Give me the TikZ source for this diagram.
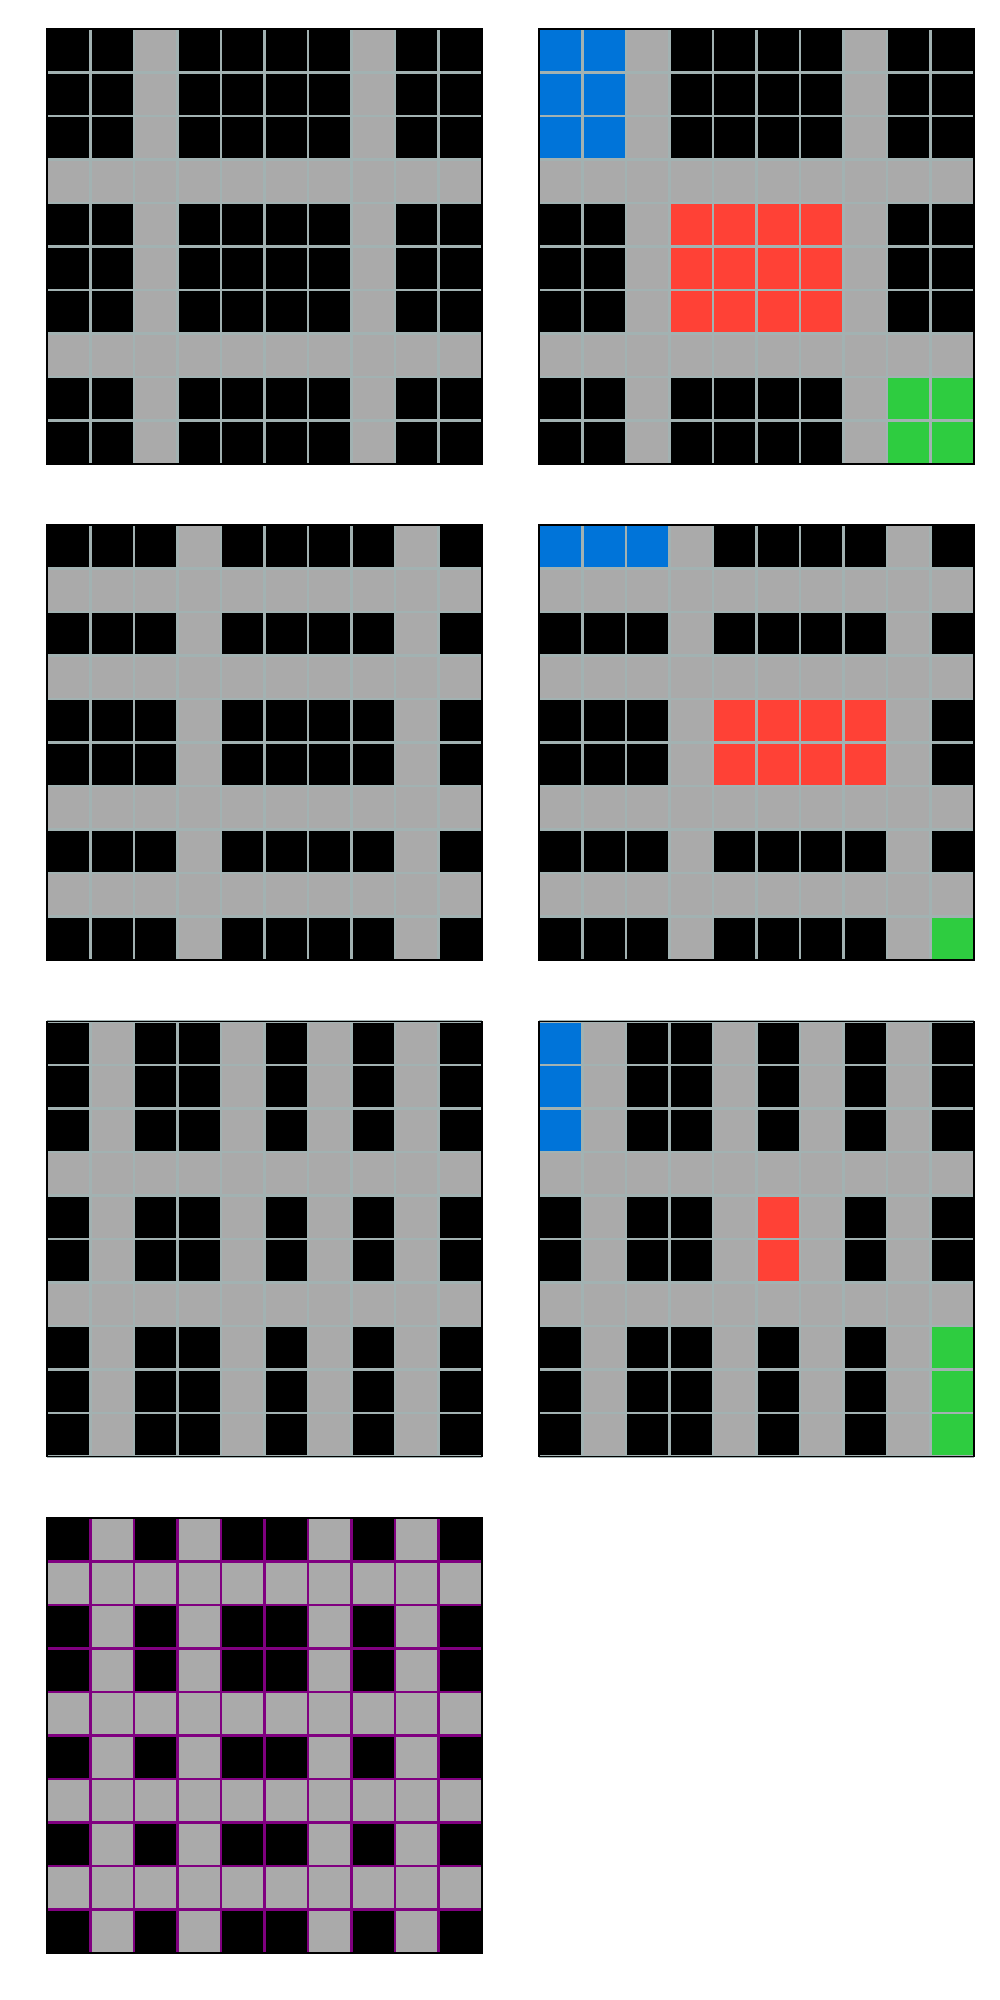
\documentclass[tikz,border=0pt]{standalone}
\definecolor{arcgrey}{HTML}{AAAAAA}
\definecolor{arcblue}{HTML}{0074D9}
\definecolor{arcred}{HTML}{FF4136}
\definecolor{arcgreen}{HTML}{2ECC40}
\definecolor{linegrey}{HTML}{A2B2B2}
\definecolor{linepurple}{HTML}{800080}
\tikzset{
  cellrule/.style={draw=linegrey, line width=0.6pt},
  purplerule/.style={draw=linepurple, line width=0.6pt},
  gridframe/.style={draw=black, line width=0.4pt},
}
% black board with grey rows and columns (rows counted from the top)
\newcommand{\cellbands}[2]{%
  \fill[black] (0,0) rectangle (10,10);
  \foreach \c in {#1} \fill[arcgrey] (\c,0) rectangle ++(1,10);
  \foreach \r in {#2} \fill[arcgrey] (0,{9-\r}) rectangle ++(10,1);
}
% cell lines and outer frame
\newcommand{\cellrules}[1]{%
  \foreach \i in {0,...,10} {
    \draw[#1] (\i,0) -- (\i,10);
    \draw[#1] (0,\i) -- (10,\i);
  }
  \draw[gridframe] (0,0) rectangle (10,10);
}
\begin{document}
\begin{tikzpicture}
  \useasboundingbox[fill=white] (0,0) rectangle (10,20);
  % first pair
  \begin{scope}[shift={(0.47cm,15.36cm)}, x=0.435cm, y=0.435cm]
    \cellbands{2,7}{3,7}
    \cellrules{cellrule}
  \end{scope}
  \begin{scope}[shift={(5.39cm,15.36cm)}, x=0.435cm, y=0.435cm]
    \cellbands{2,7}{3,7}
    \fill[arcblue] (0,7) rectangle (2,10);
    \fill[arcred] (3,3) rectangle (7,6);
    \fill[arcgreen] (8,0) rectangle (10,2);
    \cellrules{cellrule}
  \end{scope}
  % second pair
  \begin{scope}[shift={(0.47cm,10.40cm)}, x=0.435cm, y=0.435cm]
    \cellbands{3,8}{1,3,6,8}
    \cellrules{cellrule}
  \end{scope}
  \begin{scope}[shift={(5.39cm,10.40cm)}, x=0.435cm, y=0.435cm]
    \cellbands{3,8}{1,3,6,8}
    \fill[arcblue] (0,9) rectangle (3,10);
    \fill[arcred] (4,4) rectangle (8,6);
    \fill[arcgreen] (9,0) rectangle (10,1);
    \cellrules{cellrule}
  \end{scope}
  % third pair
  \begin{scope}[shift={(0.47cm,5.435cm)}, x=0.435cm, y=0.435cm]
    \cellbands{1,4,6,8}{3,6}
    \cellrules{cellrule}
  \end{scope}
  \begin{scope}[shift={(5.39cm,5.435cm)}, x=0.435cm, y=0.435cm]
    \cellbands{1,4,6,8}{3,6}
    \fill[arcblue] (0,7) rectangle (1,10);
    \fill[arcred] (5,4) rectangle (6,6);
    \fill[arcgreen] (9,0) rectangle (10,3);
    \cellrules{cellrule}
  \end{scope}
  % test input
  \begin{scope}[shift={(0.47cm,0.47cm)}, x=0.435cm, y=0.435cm]
    \cellbands{1,3,6,8}{1,4,6,8}
    \cellrules{purplerule}
  \end{scope}
\end{tikzpicture}
\end{document}
